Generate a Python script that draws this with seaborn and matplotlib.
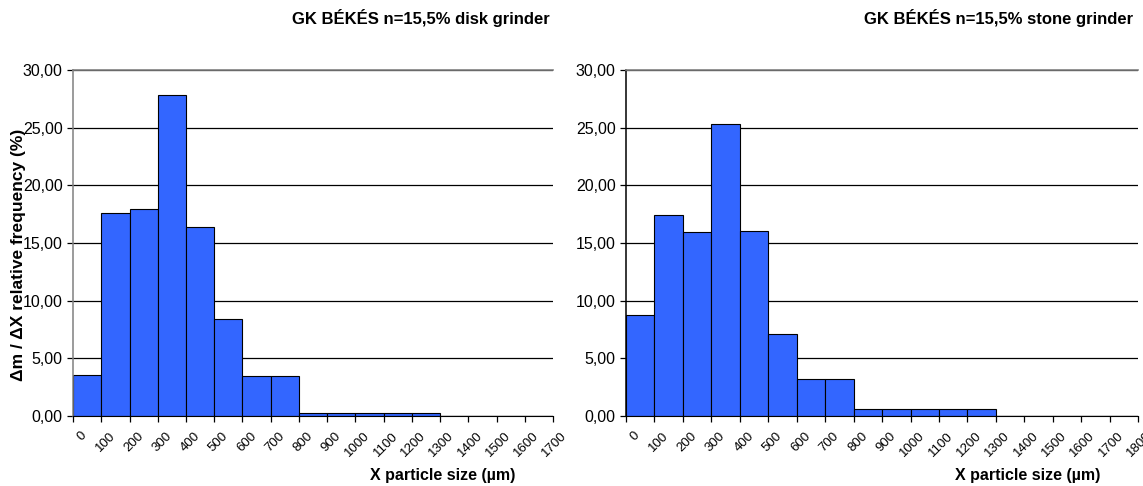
import numpy as np
import matplotlib
matplotlib.use("Agg")
import matplotlib.pyplot as plt
import matplotlib.transforms as mtransforms
from matplotlib.ticker import FuncFormatter
import seaborn as sns

# --- data (bin lower edges in µm, relative frequency in %) ---
disk_sizes = [0, 100, 200, 300, 400, 500, 600, 700, 800, 900, 1000, 1100, 1200,
              1300, 1400, 1500, 1600]
disk_freq = [3.55, 17.62, 17.94, 27.83, 16.35, 8.39, 3.46, 3.46, 0.23, 0.23, 0.23,
             0.23, 0.23, 0.0, 0.0, 0.0, 0.0]

stone_sizes = [0, 100, 200, 300, 400, 500, 600, 700, 800, 900, 1000, 1100, 1200,
               1300, 1400, 1500, 1600, 1700]
stone_freq = [8.80, 17.45, 15.92, 25.35, 16.01, 7.10, 3.17, 3.17, 0.58, 0.58, 0.58,
              0.58, 0.58, 0.03, 0.03, 0.03, 0.03, 0.03]

disk_title = "GK BÉKÉS n=15,5% disk grinder"
stone_title = "GK BÉKÉS n=15,5% stone grinder"
x_label = "X particle size (µm)"
y_label = "Δm / ΔX relative frequency (%)"

sns.set_style("white")
plt.rcParams['font.family'] = ['Liberation Sans', 'DejaVu Sans']
plt.rcParams['text.color'] = 'black'
plt.rcParams['axes.labelcolor'] = 'black'

fig = plt.figure(figsize=(11.43, 4.86), dpi=100)
ax1 = fig.add_axes([0.0639, 0.144, 0.420, 0.712])
ax2 = fig.add_axes([0.5477, 0.144, 0.448, 0.712])

bar_color = "#3366FF"
comma = FuncFormatter(lambda v, p: f"{v:.2f}".replace(".", ","))


def draw_panel(ax, sizes, freq, title, title_x, spine_col):
    step = sizes[1] - sizes[0]
    edges = list(sizes) + [sizes[-1] + step]
    sns.histplot(x=sizes, weights=freq, bins=edges, ax=ax, stat="count",
                 color=bar_color, alpha=1, edgecolor="black", linewidth=0.8)
    ax.set_xlim(edges[0], edges[-1])
    ax.set_ylim(0, 30)
    ax.set_yticks(np.arange(0, 31, 5))
    ax.yaxis.set_major_formatter(comma)
    ax.set_xticks(edges)
    ax.set_xticklabels([str(e) for e in edges])
    ax.set_axisbelow(True)
    ax.grid(axis="y", color="black", linewidth=0.9)
    ax.grid(axis="x", visible=False)

    ax.spines["right"].set_visible(False)
    ax.spines["top"].set_color("#808080")
    ax.spines["top"].set_linewidth(1.2)
    ax.spines["left"].set_color(spine_col)
    ax.spines["left"].set_linewidth(1.1)
    ax.spines["bottom"].set_color("black")

    ax.tick_params(axis="y", direction="out", length=4.5, width=0.9, pad=3,
                   labelsize=11.5, left=True, colors="black")
    ax.tick_params(axis="x", direction="out", length=4, width=0.9, pad=9,
                   labelsize=9.5, bottom=True, colors="black")

    # rotated category labels like the spreadsheet original
    offset = mtransforms.ScaledTranslation(12 / 100, 0, fig.dpi_scale_trans)
    for lab in ax.get_xticklabels():
        lab.set_rotation(45)
        lab.set_ha("right")
        lab.set_va("center")
        lab.set_rotation_mode("anchor")
        lab.set_transform(lab.get_transform() + offset)

    ax.set_ylabel("")
    ax.set_xlabel(x_label, fontsize=11.5, fontweight="bold")
    fig.text(title_x, 0.963, title, ha="right", va="center",
             fontsize=12, fontweight="bold")


draw_panel(ax1, disk_sizes, disk_freq, disk_title, 0.481, "#808080")
draw_panel(ax2, stone_sizes, stone_freq, stone_title, 0.991, "black")
ax1.xaxis.set_label_coords(0.77, -0.15)
ax2.xaxis.set_label_coords(0.785, -0.15)

ax1.set_ylabel(y_label, fontsize=12.5, fontweight="bold")
ax1.yaxis.set_label_coords(-0.098, 0.465)

fig.savefig("out.png", dpi=100)
